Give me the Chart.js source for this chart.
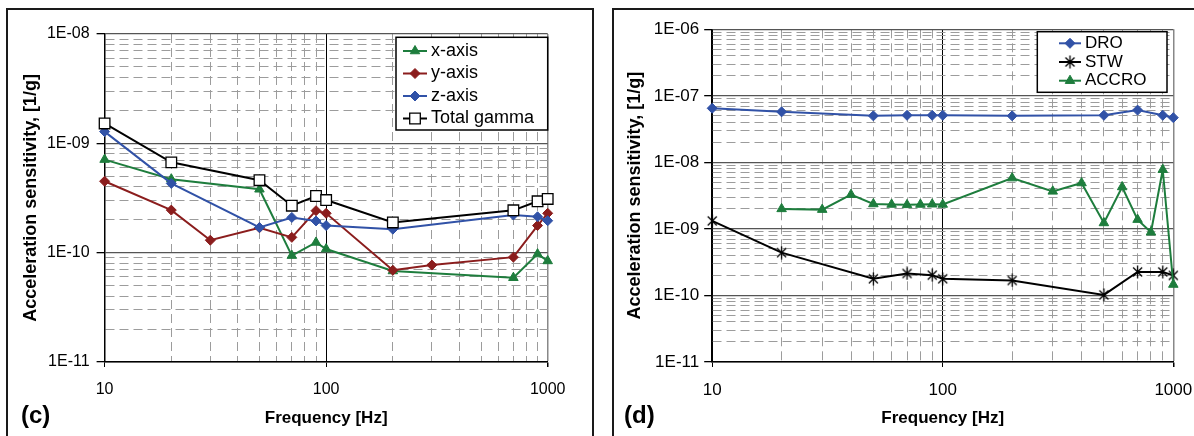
<!DOCTYPE html>
<html>
<head>
<meta charset="utf-8">
<script src="https://cdn.jsdelivr.net/npm/chart.js@4.4.1/dist/chart.umd.min.js"></script>
<style>
  body { margin: 0; width: 1194px; height: 436px; overflow: hidden; background: #fff;
         font-family: "Liberation Sans", Arial, sans-serif; position: relative; }
  .panel { position: absolute; top: 8px; height: 470px; border: 2px solid #1a1a1a; box-sizing: border-box; }
  #panelC { left: 6px; width: 588px; }
  #panelD { left: 612px; width: 620px; }
  canvas { position: absolute; top: 0; }
  #chartC { left: 0; }
  #chartD { left: 600px; }
  .tag { position: absolute; top: 403px; font-size: 24px; font-weight: bold; line-height: 24px; color: #000; }
</style>
</head>
<body>
<div class="panel" id="panelC"></div>
<div class="panel" id="panelD"></div>
<canvas id="chartC" width="600" height="436"></canvas>
<canvas id="chartD" width="620" height="436"></canvas>
<div class="tag" style="left:21px">(c)</div>
<div class="tag" style="left:624px">(d)</div>
<script>
// panel (c): sensitivity per axis
const freqC = [10, 20, 50, 70, 90, 100, 200, 700, 900, 1000];
const freqCy = [10, 20, 30, 50, 70, 90, 100, 200, 300, 700, 900, 1000];
const xAxisC = [7.1e-10, 4.7e-10, 3.8e-10, 9.4e-11, 1.24e-10, 1.08e-10, 6.8e-11, 5.9e-11, 9.7e-11, 8.4e-11];
const yAxisC = [4.5e-10, 2.45e-10, 1.3e-10, 1.69e-10, 1.38e-10, 2.42e-10, 2.29e-10, 6.9e-11, 7.7e-11, 9.1e-11, 1.77e-10, 2.29e-10];
const zAxisC = [1.28e-9, 4.3e-10, 1.7e-10, 2.1e-10, 1.95e-10, 1.77e-10, 1.64e-10, 2.21e-10, 2.13e-10, 1.96e-10];
const totalC = [1.52e-9, 6.7e-10, 4.6e-10, 2.69e-10, 3.3e-10, 3.03e-10, 1.89e-10, 2.44e-10, 2.95e-10, 3.1e-10];

// panel (d): resonator types
const freqD = [10, 20, 50, 70, 90, 100, 200, 500, 700, 900, 1000];
const droD = [6.5e-8, 5.75e-8, 5.0e-8, 5.1e-8, 5.1e-8, 5.1e-8, 5.0e-8, 5.1e-8, 6.1e-8, 5.1e-8, 4.7e-8];
const stwD = [1.32e-9, 4.4e-10, 1.78e-10, 2.14e-10, 2.02e-10, 1.78e-10, 1.68e-10, 1.02e-10, 2.26e-10, 2.26e-10, 2.0e-10];
const freqAccro = [20, 30, 40, 50, 60, 70, 80, 90, 100, 200, 300, 400, 500, 600, 700, 800, 900, 1000];
const accroD = [2.0e-9, 1.95e-9, 3.27e-9, 2.37e-9, 2.33e-9, 2.3e-9, 2.33e-9, 2.35e-9, 2.33e-9, 5.8e-9,
                3.67e-9, 4.9e-9, 1.23e-9, 4.27e-9, 1.38e-9, 8.9e-10, 7.76e-9, 1.46e-10];

// tick labels
const xDecades = [10, 100, 1000];
const xTickLabels = ['10', '100', '1000'];
const yDecadesC = [1e-11, 1e-10, 1e-9, 1e-8];
const yTickLabelsC = ['1E-11', '1E-10', '1E-09', '1E-08'];
const yDecadesD = [1e-11, 1e-10, 1e-9, 1e-8, 1e-7, 1e-6];
const yTickLabelsD = ['1E-11', '1E-10', '1E-09', '1E-08', '1E-07', '1E-06'];

const FONT = '"Liberation Sans", Arial, sans-serif';
Chart.defaults.font.family = FONT;
Chart.defaults.color = '#000';

const GREEN = '#1e7d3d', RED = '#8b1d1d', BLUE = '#3152a7';
const MINOR = '#9c9c9c';

function isDecade(v) {
  const l = Math.log10(v);
  return Math.abs(l - Math.round(l)) < 1e-6;
}
// 1..9 x each decade, for the log grid
function gridValues(decades) {
  const out = [];
  for (let i = 0; i < decades.length - 1; i++)
    for (let m = 1; m < 10; m++) out.push(decades[i] * m);
  out.push(decades[decades.length - 1]);
  return out;
}
function labelFor(v, decades, labels) {
  const i = decades.findIndex(d => Math.abs(d - v) / d < 1e-6);
  return i >= 0 ? labels[i] : '';
}
function pts(xs, ys) { return xs.map((x, i) => ({ x: x, y: ys[i] })); }

function starMarker() {
  const c = document.createElement('canvas');
  c.width = 13; c.height = 14;
  const g = c.getContext('2d');
  g.strokeStyle = '#000'; g.lineWidth = 1.3;
  g.beginPath();
  g.moveTo(2, 2.5); g.lineTo(11, 11.5);
  g.moveTo(11, 2.5); g.lineTo(2, 11.5);
  g.moveTo(6.5, 0.5); g.lineTo(6.5, 13.5);
  g.stroke();
  return c;
}

const boxLegend = {
  id: 'boxLegend',
  afterDatasetsDraw(chart, args, o) {
    const ctx = chart.ctx;
    ctx.save();
    ctx.fillStyle = '#fff';
    ctx.fillRect(o.left, o.top, o.width, o.height);
    ctx.strokeStyle = '#000'; ctx.lineWidth = 1.5;
    ctx.strokeRect(o.left, o.top, o.width, o.height);
    ctx.font = o.fontSize + 'px ' + FONT;
    ctx.textBaseline = 'middle'; ctx.textAlign = 'left';
    chart.data.datasets.forEach((ds, i) => {
      const y = o.firstRow + i * o.rowGap;
      ctx.strokeStyle = ds.borderColor; ctx.lineWidth = ds.borderWidth;
      ctx.beginPath(); ctx.moveTo(o.lineStart, y); ctx.lineTo(o.lineEnd, y); ctx.stroke();
      ctx.fillStyle = ds.pointBackgroundColor; ctx.strokeStyle = ds.pointBorderColor;
      ctx.lineWidth = ds.pointBorderWidth;
      Chart.helpers.drawPoint(ctx, { pointStyle: ds.pointStyle, radius: ds.pointRadius, rotation: 0,
        borderWidth: ds.pointBorderWidth }, (o.lineStart + o.lineEnd) / 2, y);
      ctx.fillStyle = '#000';
      ctx.fillText(ds.label, o.textX, y);
    });
    ctx.restore();
  }
};

function series(label, data, color, style, radius, extra) {
  return Object.assign({
    label: label, data: data, borderColor: color, borderWidth: 2,
    pointStyle: style, pointRadius: radius, pointHoverRadius: radius,
    pointBackgroundColor: color, pointBorderColor: color, pointBorderWidth: 1,
    tension: 0, clip: false
  }, extra || {});
}

function scales(yMin, yMax, yDecades, yLabels, yWidth, titlePad, tickSize, tickPad) {
  const minorDash = c => (c.tick && !isDecade(c.tick.value)) ? [9, 5] : [];
  return {
    x: {
      type: 'logarithmic', min: 10, max: 1000,
      afterBuildTicks: s => { s.ticks = gridValues(xDecades).map(v => ({ value: v })); },
      afterFit: s => { s.height = 74; },
      ticks: { autoSkip: false, maxRotation: 0, padding: 13, font: { size: tickSize },
               callback: v => labelFor(v, xDecades, xTickLabels) },
      grid: {
        color: c => !c.tick ? '#000' : (c.tick.value === 1000 ? '#888' : (isDecade(c.tick.value) ? '#000' : MINOR)),
        lineWidth: c => (c.tick && c.tick.value === 1000) ? 1.5 : 1,
        tickLength: 5,
        tickColor: c => (c.tick && isDecade(c.tick.value)) ? '#000' : 'rgba(0,0,0,0)'
      },
      border: { color: '#000', width: 1.5, dash: minorDash },
      title: { display: true, text: 'Frequency [Hz]', font: { size: 17, weight: 'bold' },
               padding: { top: 0, bottom: 7 } }
    },
    y: {
      type: 'logarithmic', min: yMin, max: yMax,
      afterBuildTicks: s => { s.ticks = gridValues(yDecades).map(v => ({ value: v })); },
      afterFit: s => { s.width = yWidth; },
      ticks: { autoSkip: false, padding: tickPad, font: { size: tickSize },
               callback: v => labelFor(v, yDecades, yLabels) },
      grid: {
        color: c => (c.tick && isDecade(c.tick.value)) ? '#555' : MINOR,
        lineWidth: c => (c.tick && isDecade(c.tick.value)) ? 1.3 : 1,
        tickLength: 8,
        tickColor: c => (c.tick && isDecade(c.tick.value)) ? '#000' : 'rgba(0,0,0,0)'
      },
      border: { color: '#000', width: 1.5, dash: minorDash },
      title: { display: true, text: 'Acceleration sensitivity, [1/g]', font: { size: 18, weight: 'bold' },
               padding: { top: titlePad, bottom: 0 } }
    }
  };
}

new Chart(document.getElementById('chartC'), {
  type: 'line',
  data: {
    datasets: [
      series('x-axis', pts(freqC, xAxisC), GREEN, 'triangle', 5.5, { order: 3 }),
      series('y-axis', pts(freqCy, yAxisC), RED, 'rectRot', 5, { order: 2 }),
      series('z-axis', pts(freqC, zAxisC), BLUE, 'rectRot', 5, { order: 1 }),
      series('Total gamma', pts(freqC, totalC), '#000', 'rect', 7.5,
             { order: 0, pointBackgroundColor: '#fff', pointBorderColor: '#000', pointBorderWidth: 1.3 })
    ]
  },
  options: {
    responsive: false, animation: false, events: [],
    layout: { padding: { top: 34, right: 52.3, bottom: 0, left: 0 } },
    scales: scales(1e-11, 1e-8, yDecadesC, yTickLabelsC, 104.6, 20.7, 16, 7),
    plugins: {
      legend: { display: false }, tooltip: { enabled: false },
      boxLegend: { left: 396, top: 37.3, width: 151.7, height: 92.7, firstRow: 51, rowGap: 22.5,
                   lineStart: 403, lineEnd: 427, textX: 431, fontSize: 18 }
    }
  },
  plugins: [boxLegend]
});

new Chart(document.getElementById('chartD'), {
  type: 'line',
  data: {
    datasets: [
      series('DRO', pts(freqD, droD), BLUE, 'rectRot', 5, { order: 2 }),
      series('STW', pts(freqD, stwD), '#000', starMarker(), 6, { order: 1 }),
      series('ACCRO', pts(freqAccro, accroD), GREEN, 'triangle', 5.5, { order: 0 })
    ]
  },
  options: {
    responsive: false, animation: false, events: [],
    layout: { padding: { top: 29.3, right: 46.7, bottom: 0, left: 0 } },
    scales: scales(1e-11, 1e-6, yDecadesD, yTickLabelsD, 112.2, 24.2, 17, 5),
    plugins: {
      legend: { display: false }, tooltip: { enabled: false },
      boxLegend: { left: 437.3, top: 31.7, width: 129.7, height: 60.6, firstRow: 43.3, rowGap: 18.7,
                   lineStart: 459, lineEnd: 481, textX: 485, fontSize: 17 }
    }
  },
  plugins: [boxLegend]
});
</script>
</body>
</html>
